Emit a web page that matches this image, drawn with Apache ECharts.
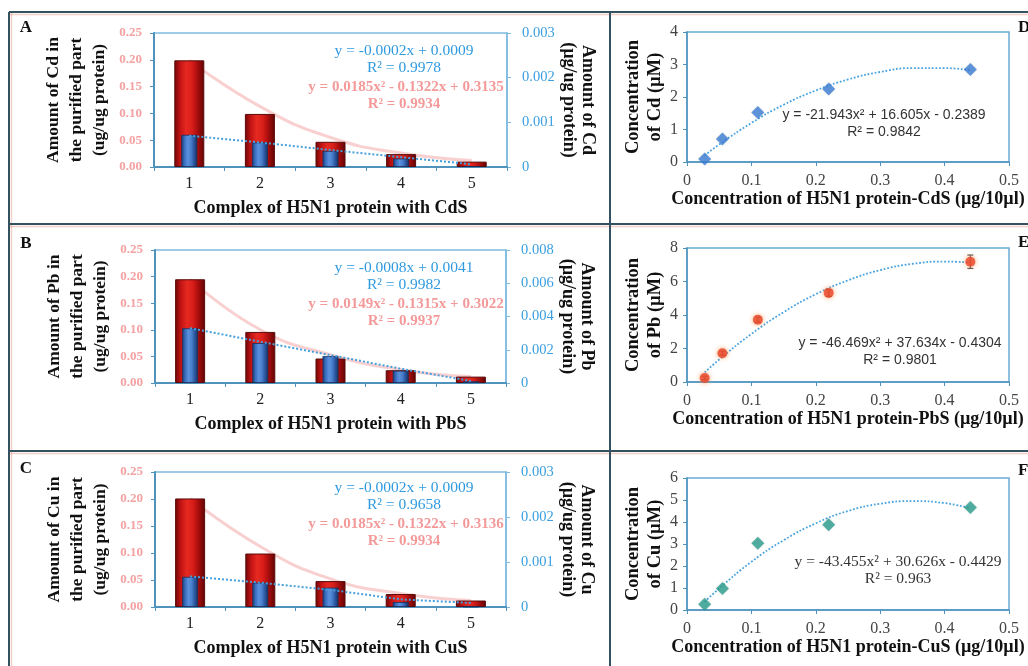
<!DOCTYPE html>
<html><head><meta charset="utf-8">
<script src="https://cdn.jsdelivr.net/npm/echarts@6/dist/echarts.min.js"></script>
<style>html,body{margin:0;padding:0;background:#fff}#c{width:1028px;height:666px}</style>
</head><body><div id="c"></div>
<script>
// ---------- data ----------
const complexCategories = ['1', '2', '3', '4', '5'];

const cdPurified   = [0.199, 0.099, 0.047, 0.024, 0.010];
const cdAmount     = [0.00072, 0.00055, 0.00036, 0.00019, 0.00002];
const cdPolyTrend  = [0.199, 0.113, 0.055, 0.026, 0.012];
const cdLinTrend   = [0.00070, 0.00055, 0.00038, 0.00022, 0.00006];

const pbPurified   = [0.195, 0.096, 0.046, 0.024, 0.012];
const pbAmount     = [0.00329, 0.00240, 0.00162, 0.00074, 0.00010];
const pbPolyTrend  = [0.195, 0.100, 0.053, 0.025, 0.012];
const pbLinTrend   = [0.00330, 0.00248, 0.00168, 0.00086, 0.00012];

const cuPurified   = [0.201, 0.099, 0.048, 0.024, 0.012];
const cuAmount     = [0.00067, 0.00054, 0.00043, 0.00011, 0.00001];
const cuPolyTrend  = [0.201, 0.112, 0.052, 0.025, 0.012];
const cuLinTrend   = [0.00068, 0.00054, 0.00038, 0.00017, 0.00009];

const proteinConc  = [0.0275, 0.055, 0.11, 0.22, 0.44];
const cdConc       = [0.09, 0.71, 1.52, 2.25, 2.85];
const pbConc       = [0.24, 1.72, 3.72, 5.32, 7.18];
const pbErr        = [0.10, 0.12, 0.15, 0.20, 0.40];
const cuConc       = [0.26, 0.98, 3.03, 3.88, 4.66];

const trendX       = [0.0275, 0.05, 0.1, 0.15, 0.2, 0.25, 0.3, 0.35, 0.4, 0.44];
const cdTrendY     = [0.20, 0.54, 1.20, 1.76, 2.20, 2.54, 2.77, 2.89, 2.89, 2.82];
const pbTrendY     = [0.57, 1.34, 2.87, 4.17, 5.24, 6.07, 6.68, 7.05, 7.19, 7.13];
const cuTrendY     = [0.37, 0.98, 2.19, 3.17, 3.94, 4.50, 4.83, 4.95, 4.86, 4.62];

const leftTicks  = ['0.00', '0.05', '0.10', '0.15', '0.20', '0.25'];
// ---------- layout ----------
const SERIF = '"Liberation Serif","Times New Roman",serif';
const SANS = '"Liberation Sans",Arial,sans-serif';
const AX = '#4f93bd';

const barPanels = [
  {grid: {left: 154, top: 33, width: 353, height: 134}, metal: 'Cd', rmax: 0.003, rint: 0.001,
   red: cdPurified, blue: cdAmount, poly: cdPolyTrend, lin: cdLinTrend,
   eqB: ['y = -0.0002x + 0.0009', 'R² = 0.9978'], eqR: ['y = 0.0185x² - 0.1322x + 0.3135', 'R² = 0.9934'],
   ey: 51, letter: 'A', ly: 28},
  {grid: {left: 155, top: 250, width: 351, height: 133}, metal: 'Pb', rmax: 0.008, rint: 0.002,
   red: pbPurified, blue: pbAmount, poly: pbPolyTrend, lin: pbLinTrend,
   eqB: ['y = -0.0008x + 0.0041', 'R² = 0.9982'], eqR: ['y = 0.0149x² - 0.1315x + 0.3022', 'R² = 0.9937'],
   ey: 268, letter: 'B', ly: 244},
  {grid: {left: 155, top: 472, width: 351, height: 135}, metal: 'Cu', rmax: 0.003, rint: 0.001,
   red: cuPurified, blue: cuAmount, poly: cuPolyTrend, lin: cuLinTrend,
   eqB: ['y = -0.0002x + 0.0009', 'R² = 0.9658'], eqR: ['y = 0.0185x² - 0.1322x + 0.3136', 'R² = 0.9934'],
   ey: 488, letter: 'C', ly: 469}
];
const scatterPanels = [
  {grid: {left: 687, top: 32, width: 322, height: 130}, metal: 'Cd', ymax: 4, yint: 1, pts: cdConc, trend: cdTrendY,
   symbol: 'diamond', size: 13, color: '#3c7ed6', eq: ['y = -21.943x² + 16.605x - 0.2389', 'R² = 0.9842'], ex: 884, ey: 115, font: SANS, fs: 14,
   letter: 'D', ly: 28},
  {grid: {left: 687, top: 248, width: 322, height: 134}, metal: 'Pb', ymax: 8, yint: 2, pts: pbConc, trend: pbTrendY,
   symbol: 'circle', size: 10, color: '#e8432a', eq: ['y = -46.469x² + 37.634x - 0.4304', 'R² = 0.9801'], ex: 900, ey: 343, font: SANS, fs: 14,
   letter: 'E', ly: 243, err: pbErr},
  {grid: {left: 687, top: 478, width: 322, height: 132}, metal: 'Cu', ymax: 6, yint: 1, pts: cuConc, trend: cuTrendY,
   symbol: 'diamond', size: 13, color: '#2a9d8c', eq: ['y = -43.455x² + 30.626x - 0.4429', 'R² = 0.963'], ex: 898, ey: 562, font: SERIF, fs: 15.5,
   letter: 'F', ly: 471}
];

const grids = [], xAxes = [], yAxes = [], series = [], graphics = [];

function grad(stops) {
  return new echarts.graphic.LinearGradient(0, 0, 1, 0, stops.map((c, i) => ({offset: i / (stops.length - 1), color: c})));
}

barPanels.forEach((p, g) => {
  grids.push(Object.assign({show: true, borderColor: '#7fbbe0', borderWidth: 1.5, backgroundColor: '#fff'}, p.grid));
  xAxes.push({
    type: 'category', gridIndex: g, data: complexCategories,
    name: 'Complex of H5N1 protein with ' + p.metal + 'S', nameLocation: 'middle', nameGap: 32,
    nameTextStyle: {fontFamily: SERIF, fontWeight: 'bold', fontSize: 18, color: '#111'},
    axisLine: {lineStyle: {color: AX, width: 2}},
    axisTick: {show: true, length: 4, lineStyle: {color: AX}},
    axisLabel: {fontFamily: SERIF, fontSize: 16, color: '#222', margin: 9}
  });
  xAxes.push({type: 'category', gridIndex: g, data: complexCategories, show: false});
  yAxes.push({
    type: 'value', gridIndex: g, min: 0, max: 0.25, interval: 0.05, position: 'left',
    name: 'Amount of ' + p.metal + ' in\nthe purified part\n(ug/ug protein)', nameLocation: 'middle', nameRotate: 90, nameGap: 43,
    nameTextStyle: {fontFamily: SERIF, fontWeight: 'bold', fontSize: 17.5, lineHeight: 23, color: '#111'},
    axisLine: {show: true, lineStyle: {color: AX, width: 2}},
    axisTick: {show: true, length: 4, lineStyle: {color: AX}},
    splitLine: {show: false},
    axisLabel: {fontFamily: SERIF, fontWeight: 'bold', fontSize: 13, color: '#f4a2a2', margin: 12,
      formatter: v => leftTicks[Math.round(v / 0.05)]}
  });
  yAxes.push({
    type: 'value', gridIndex: g, min: 0, max: p.rmax, interval: p.rint, position: 'right',
    name: 'Amount of ' + p.metal + '\n(µg/ug protein)', nameLocation: 'middle', nameRotate: -90, nameGap: 52,
    nameTextStyle: {fontFamily: SERIF, fontWeight: 'bold', fontSize: 18, lineHeight: 19, color: '#111'},
    axisLine: {show: true, lineStyle: {color: '#7fbbe0', width: 1.5}},
    axisTick: {show: true, length: 4, lineStyle: {color: '#7fbbe0'}},
    splitLine: {show: false},
    axisLabel: {fontFamily: SERIF, fontSize: 14.5, color: '#3a9fe0', margin: 15,
      formatter: v => v === 0 ? '0' : v.toFixed(3)}
  });
  series.push({
    type: 'line', xAxisIndex: 2 * g, yAxisIndex: 2 * g, data: p.poly, smooth: true, symbol: 'none', z: 1,
    lineStyle: {color: 'rgba(242,150,150,0.45)', width: 3}
  });
  series.push({
    type: 'bar', xAxisIndex: 2 * g, yAxisIndex: 2 * g, data: p.red, barWidth: 30, z: 2,
    itemStyle: {color: grad(['#6e0606', '#c41414', '#e62a22', '#d81c18', '#a00c0c', '#5e0404']),
      borderColor: '#5a0a0a', borderWidth: 1}
  });
  series.push({
    type: 'bar', xAxisIndex: 2 * g + 1, yAxisIndex: 2 * g + 1, data: p.blue, barWidth: 16, z: 3,
    itemStyle: {color: grad(['#1b3b72', '#3a6fc0', '#5a90dc', '#4a7fcc', '#2a559e', '#17325f']),
      borderColor: '#17325f', borderWidth: 0.8}
  });
  series.push({
    type: 'line', xAxisIndex: 2 * g, yAxisIndex: 2 * g + 1, data: p.lin, symbol: 'none', z: 4,
    lineStyle: {color: '#45a0dc', width: 2, type: 'dotted'}
  });
  const cx = 404;
  graphics.push({type: 'text', x: cx, y: p.ey, style: {text: p.eqB[0], font: '15.5px ' + SERIF, fill: '#2f9ae0', textAlign: 'center', textVerticalAlign: 'middle'}});
  graphics.push({type: 'text', x: cx, y: p.ey + 17, style: {text: p.eqB[1], font: '15.5px ' + SERIF, fill: '#2f9ae0', textAlign: 'center', textVerticalAlign: 'middle'}});
  graphics.push({type: 'text', x: cx + 2, y: p.ey + 36, style: {text: p.eqR[0], font: 'bold 15px ' + SERIF, fill: 'rgba(240,110,110,0.7)', textAlign: 'center', textVerticalAlign: 'middle'}});
  graphics.push({type: 'text', x: cx, y: p.ey + 53, style: {text: p.eqR[1], font: 'bold 15px ' + SERIF, fill: 'rgba(240,110,110,0.7)', textAlign: 'center', textVerticalAlign: 'middle'}});
  graphics.push({type: 'text', x: 26, y: p.ly, style: {text: p.letter, font: 'bold 17px ' + SERIF, fill: '#111', textAlign: 'center', textVerticalAlign: 'middle'}});
});

scatterPanels.forEach((p, s) => {
  const gi = 3 + s, ai = 6 + s;
  grids.push(Object.assign({show: true, borderColor: '#6aaad4', borderWidth: 1.5, backgroundColor: '#fff'}, p.grid));
  xAxes.push({
    type: 'value', gridIndex: gi, min: 0, max: 0.5, interval: 0.1,
    name: 'Concentration of H5N1 protein-' + p.metal + 'S (µg/10µl)', nameLocation: 'middle', nameGap: 27,
    nameTextStyle: {fontFamily: SERIF, fontWeight: 'bold', fontSize: 18, color: '#111'},
    axisLine: {lineStyle: {color: AX, width: 1.5}},
    axisTick: {show: true, length: 4, lineStyle: {color: AX}},
    splitLine: {show: false},
    axisLabel: {fontFamily: SERIF, fontSize: 16, color: '#444', margin: 11,
      formatter: v => v === 0 ? '0' : String(+v.toFixed(1))}
  });
  yAxes.push({
    type: 'value', gridIndex: gi, min: 0, max: p.ymax, interval: p.yint,
    name: 'Concentration\nof ' + p.metal + ' (µM)', nameLocation: 'middle', nameRotate: 90, nameGap: 20,
    nameTextStyle: {fontFamily: SERIF, fontWeight: 'bold', fontSize: 18.5, lineHeight: 22, color: '#111'},
    axisLine: {show: true, lineStyle: {color: AX, width: 1.5}},
    axisTick: {show: true, length: 4, lineStyle: {color: AX}},
    splitLine: {show: false},
    axisLabel: {fontFamily: SERIF, fontSize: 16, color: '#444', margin: 9}
  });
  series.push({
    type: 'line', xAxisIndex: ai, yAxisIndex: ai, data: trendX.map((x, i) => [x, p.trend[i]]),
    smooth: true, symbol: 'none', z: 2, lineStyle: {color: '#4aa3df', width: 1.8, type: 'dotted'}
  });
  if (p.err) {
    series.push({
      type: 'custom', xAxisIndex: ai, yAxisIndex: ai, z: 3,
      data: proteinConc.map((x, i) => [x, p.pts[i], p.err[i]]),
      renderItem: (params, api) => {
        const x = api.value(0), y = api.value(1), e = api.value(2);
        const a = api.coord([x, y - e]), b = api.coord([x, y + e]);
        const st = {stroke: '#555', lineWidth: 1.2};
        return {type: 'group', children: [
          {type: 'line', shape: {x1: a[0], y1: a[1], x2: b[0], y2: b[1]}, style: st},
          {type: 'line', shape: {x1: a[0] - 3, y1: a[1], x2: a[0] + 3, y2: a[1]}, style: st},
          {type: 'line', shape: {x1: b[0] - 3, y1: b[1], x2: b[0] + 3, y2: b[1]}, style: st}
        ]};
      }
    });
  }
  series.push({
    type: 'scatter', xAxisIndex: ai, yAxisIndex: ai, data: proteinConc.map((x, i) => [x, p.pts[i]]),
    symbol: p.symbol, symbolSize: p.size, z: 4,
    itemStyle: {color: p.color, shadowColor: p.symbol === 'circle' ? 'rgba(255,140,60,0.9)' : 'rgba(0,0,0,0.15)', shadowBlur: p.symbol === 'circle' ? 5 : 2}
  });
  graphics.push({type: 'text', x: p.ex, y: p.ey, style: {text: p.eq[0], font: p.fs + 'px ' + p.font, fill: '#333', textAlign: 'center', textVerticalAlign: 'middle'}});
  graphics.push({type: 'text', x: p.ex, y: p.ey + 17, style: {text: p.eq[1], font: p.fs + 'px ' + p.font, fill: '#333', textAlign: 'center', textVerticalAlign: 'middle'}});
  graphics.push({type: 'text', x: 1018, y: p.ly, style: {text: p.letter, font: 'bold 17px ' + SERIF, fill: '#111', textAlign: 'left', textVerticalAlign: 'middle'}});
});

// frame lines
const FR = {stroke: '#34515f', lineWidth: 2};
[[9, 12, 1028, 12], [9, 12, 9, 666], [610, 12, 610, 666], [9, 224, 1028, 224], [9, 451, 1028, 451]].forEach(l => {
  graphics.push({type: 'line', shape: {x1: l[0], y1: l[1], x2: l[2], y2: l[3]}, style: FR, z: 100});
});
[[9, 14.5, 1028, 14.5], [11.5, 12, 11.5, 666], [9, 226.5, 1028, 226.5], [9, 453.5, 1028, 453.5]].forEach(l => {
  graphics.push({type: 'line', shape: {x1: l[0], y1: l[1], x2: l[2], y2: l[3]}, style: {stroke: 'rgba(220,120,100,0.35)', lineWidth: 1.5}, z: 99});
});

const chart = echarts.init(document.getElementById('c'), null, {renderer: 'canvas'});
chart.setOption({
  animation: false,
  backgroundColor: '#fff',
  grid: grids, xAxis: xAxes, yAxis: yAxes, series: series,
  graphic: {elements: graphics}
});
</script></body></html>
